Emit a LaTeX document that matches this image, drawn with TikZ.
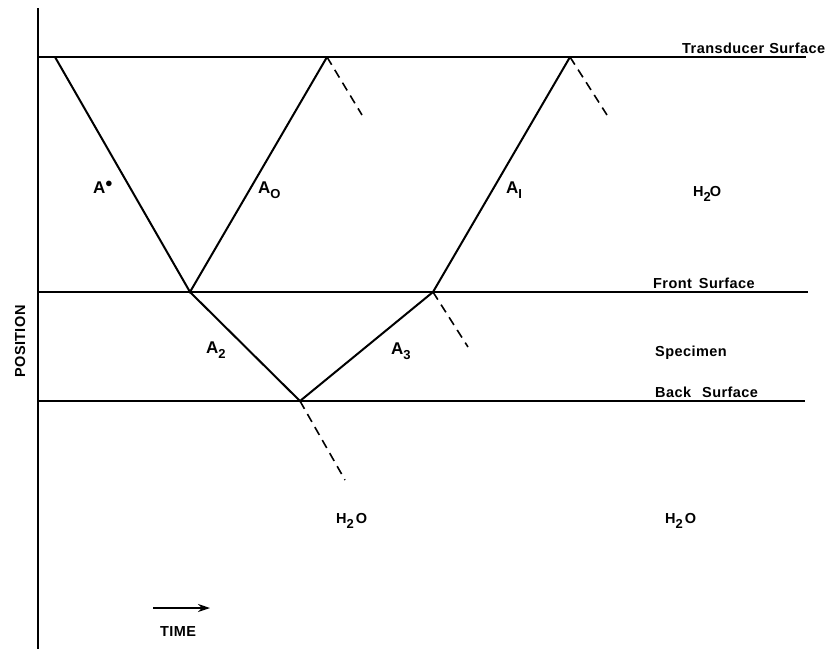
\documentclass[tikz,border=0pt]{standalone}
\usepackage{fontspec}
\setmainfont{Liberation Sans}[LetterSpace=3]
\usetikzlibrary{arrows.meta}
\newcommand{\subx}[1]{\raisebox{-5pt}{\fontsize{13}{14}\selectfont #1}}
\newcommand{\supx}[1]{\raisebox{6pt}{\fontsize{15}{16}\selectfont #1}}
\begin{document}
\begin{tikzpicture}[x=1pt,y=-1pt,
  ln/.style={line width=2pt},
  dsh/.style={line width=1.6pt, dash pattern=on 9pt off 6pt},
  lbl/.style={inner sep=0pt, anchor=base west, font=\fontsize{14.5}{16}\selectfont\bfseries},
  albl/.style={inner sep=0pt, anchor=base west, font=\fontsize{17}{18}\selectfont\bfseries}]
\useasboundingbox (0,0) rectangle (830,649);
% axis
\coordinate (axT) at (38,8);
\coordinate (axB) at (38,649);
\draw[ln] (axT) -- (axB);
% surfaces
\coordinate (tL) at (38,57);   \coordinate (tR) at (806,57);
\coordinate (fL) at (38,292);  \coordinate (fR) at (808,292);
\coordinate (bL) at (38,401);  \coordinate (bR) at (805,401);
\draw[ln] (tL) -- (tR);
\draw[ln] (fL) -- (fR);
\draw[ln] (bL) -- (bR);
% ray points
\coordinate (p0) at (55,57);
\coordinate (p1) at (190,292);
\coordinate (p2) at (327,57);
\coordinate (p3) at (300,401);
\coordinate (p4) at (433,292);
\coordinate (p5) at (570,57);
\coordinate (d2) at (362,115);
\coordinate (d5) at (607,115);
\coordinate (d4) at (468,347);
\coordinate (d3) at (345,480);
\draw[ln] (p0) -- (p1) -- (p2);
\draw[ln] (p1) -- (p3) -- (p4) -- (p5);
\draw[dsh] (p2) -- (d2);
\draw[dsh] (p5) -- (d5);
\draw[dsh] (p4) -- (d4);
\draw[dsh] (p3) -- (d3);
% labels
\node[lbl] (ts) at (682,53) {Transducer\hspace{5pt}Surface};
\node[lbl] (fs) at (653,288) {Front\hspace{7pt}Surface};
\node[lbl] (sp) at (655,356) {Specimen};
\node[lbl] (bs) at (655,397) {Back\hspace{11pt}Surface};
\node[lbl] (w1) at (693,196) {H\subx{2}\hspace{-1pt}O};
\node[lbl] (w2) at (336,523) {H\subx{2}\hspace{2pt}O};
\node[lbl] (w3) at (665,523) {H\subx{2}\hspace{2pt}O};
\node[albl] (as) at (93,193) {A\supx{$\bullet$}};
\node[albl] (a0) at (258,193) {A\subx{O}};
\node[albl] (a1) at (506,193) {A\subx{I}};
\node[albl] (a2) at (206,353) {A\subx{2}};
\node[albl] (a3) at (391,354) {A\subx{3}};
\node[lbl] (tm) at (160,636) {TIME};
\node[lbl, rotate=90] (ps) at (25,378) {POSITION};
\coordinate (arS) at (153,608);
\coordinate (arE) at (210,608);
\draw[line width=1.8pt, -{Stealth[length=12pt,width=8pt]}] (arS) -- (arE);
\end{tikzpicture}
\end{document}
